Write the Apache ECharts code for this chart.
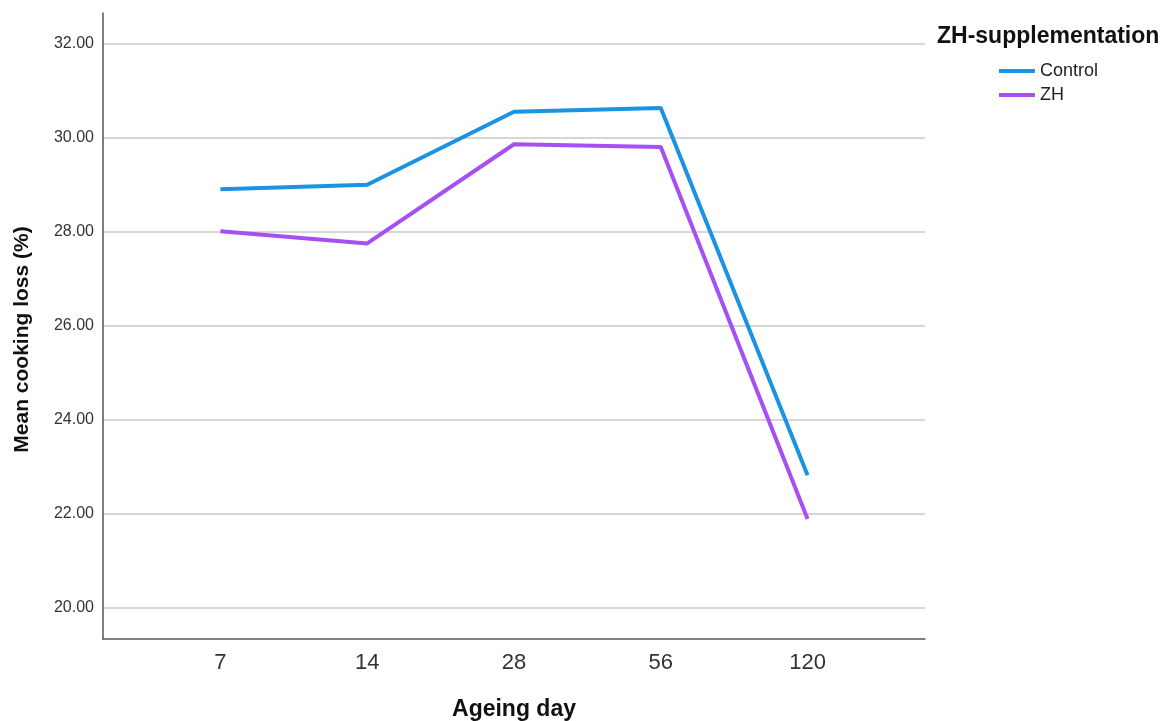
<!DOCTYPE html>
<html>
<head>
<meta charset="utf-8">
<title>Mean cooking loss by ageing day</title>
<script src="https://cdn.jsdelivr.net/npm/echarts@6/dist/echarts.min.js"></script>
<style>
  html, body { margin: 0; padding: 0; background: #ffffff; }
  #chart { width: 1172px; height: 721px; }
</style>
</head>
<body>
<div id="chart"></div>
<script>
// Ageing days (categorical x positions)
const ageingDays = ['7', '14', '28', '56', '120'];

// Mean cooking loss (%) per group
const controlLoss = [28.90, 29.00, 30.55, 30.63, 22.82];
const zhLoss = [28.01, 27.75, 29.86, 29.80, 21.89];

// Y axis tick labels
const yTicks = [20, 22, 24, 26, 28, 30, 32];

const groupNames = ['Control', 'ZH'];
const groupColors = ['#1a93e2', '#a64ff2'];

const toPoints = arr => arr.map((v, i) => [i, v]);
const xIndex = ageingDays.map((_, i) => i);

const chart = echarts.init(document.getElementById('chart'), null, { renderer: 'canvas' });

const font = 'Liberation Sans, Arial, sans-serif';

chart.setOption({
  backgroundColor: '#ffffff',
  animation: false,
  textStyle: { fontFamily: font },
  title: {
    text: 'ZH-supplementation',
    left: 932,
    top: 20,
    textStyle: { fontFamily: font, fontSize: 23, fontWeight: 'bold', color: '#111111' }
  },
  legend: {
    data: groupNames,
    orient: 'vertical',
    left: 994,
    top: 57,
    icon: 'rect',
    itemWidth: 36,
    itemHeight: 4,
    itemGap: 6,
    textStyle: { fontFamily: font, fontSize: 18, color: '#222222', lineHeight: 18 }
  },
  grid: {
    left: 103,
    right: 247,
    top: 13,
    bottom: 82,
    outerBoundsMode: 'none'
  },
  xAxis: {
    type: 'value',
    min: -0.8,
    max: 4.8,
    name: 'Ageing day',
    nameLocation: 'middle',
    nameGap: 59,
    nameTextStyle: { fontFamily: font, fontSize: 23, fontWeight: 'bold', color: '#111111' },
    axisLine: { show: true, onZero: false, lineStyle: { color: '#555555', width: 1.5 } },
    axisTick: { show: false, customValues: xIndex },
    axisLabel: {
      customValues: xIndex,
      formatter: v => ageingDays[Math.round(v)],
      fontFamily: font,
      fontSize: 22,
      color: '#333333',
      margin: 13
    },
    splitLine: { show: false }
  },
  yAxis: {
    type: 'value',
    min: 19.34,
    max: 32.65,
    name: 'Mean cooking loss (%)',
    nameLocation: 'middle',
    nameGap: 70,
    nameTextStyle: { fontFamily: font, fontSize: 21, fontWeight: 'bold', color: '#111111', padding: [0, 27, 0, 0] },
    axisLine: { show: true, onZero: false, lineStyle: { color: '#555555', width: 1.5 } },
    axisTick: { show: false, customValues: yTicks },
    axisLabel: {
      customValues: yTicks,
      formatter: v => v.toFixed(2),
      fontFamily: font,
      fontSize: 16,
      color: '#333333',
      margin: 9
    },
    splitLine: { show: true, lineStyle: { color: '#c9c9c9', width: 1.5 } }
  },
  series: [
    {
      name: groupNames[0],
      type: 'line',
      data: toPoints(controlLoss),
      symbol: 'none',
      lineStyle: { color: groupColors[0], width: 4 },
      itemStyle: { color: groupColors[0] }
    },
    {
      name: groupNames[1],
      type: 'line',
      data: toPoints(zhLoss),
      symbol: 'none',
      lineStyle: { color: groupColors[1], width: 4 },
      itemStyle: { color: groupColors[1] }
    }
  ]
});
</script>
</body>
</html>
